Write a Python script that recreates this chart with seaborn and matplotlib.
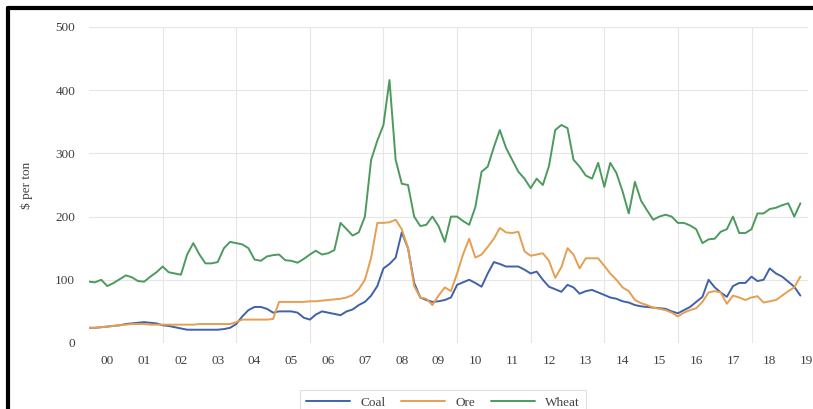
import pandas as pd
import numpy as np
import matplotlib.pyplot as plt
import matplotlib.dates as mdates
from matplotlib.lines import Line2D
import seaborn as sns

# bi-monthly observations, Jan 2000 - May 2019 ($ per ton)
dates = pd.date_range("2000-01-01", periods=117, freq="2MS")

coal = [24, 24, 25, 26, 27, 28,
        30, 31, 32, 33, 32, 31,
        28, 27, 25, 23, 21, 21,
        21, 21, 21, 21, 22, 24,
        30, 42, 52, 57, 57, 54,
        48, 50, 50, 50, 48, 40,
        37, 45, 50, 48, 46, 44,
        50, 53, 60, 65, 75, 90,
        118, 125, 135, 175, 150, 95,
        72, 68, 65, 66, 68, 72,
        92, 96, 100, 95, 89, 110,
        128, 125, 121, 121, 121, 116,
        110, 113, 100, 89, 85, 81,
        92, 88, 78, 82, 84, 80,
        76, 72, 70, 66, 64, 60,
        58, 57, 56, 55, 54, 50,
        47, 52, 57, 65, 73, 100,
        88, 80, 73, 90, 95, 95,
        105, 98, 100, 118, 110, 105,
        97, 89, 75]

ore = [24, 24, 25, 26, 27, 28,
       29, 30, 30, 30, 29, 29,
       29, 29, 29, 29, 29, 29,
       30, 30, 30, 30, 30, 30,
       33, 37, 37, 37, 37, 37,
       38, 65, 65, 65, 65, 65,
       66, 66, 67, 68, 69, 70,
       72, 76, 85, 100, 135, 190,
       190, 191, 195, 180, 150, 90,
       72, 70, 60, 75, 88, 82,
       110, 140, 165, 135, 140, 152,
       165, 182, 175, 174, 176, 145,
       138, 140, 142, 130, 103, 120,
       150, 140, 118, 134, 134, 134,
       122, 110, 100, 88, 82, 68,
       63, 60, 56, 54, 52, 48,
       42, 48, 52, 55, 65, 80,
       82, 80, 62, 75, 72, 68,
       72, 74, 64, 66, 68, 75,
       82, 88, 105]

wheat = [97, 96, 100, 90, 95, 101,
         107, 104, 98, 97, 105, 112,
         121, 112, 110, 108, 140, 158,
         140, 126, 126, 128, 150, 160,
         158, 156, 150, 132, 130, 137,
         139, 140, 131, 130, 127, 133,
         140, 146, 140, 142, 147, 190,
         180, 170, 175, 200, 290, 320,
         345, 416, 290, 252, 250, 200,
         185, 187, 200, 185, 160, 200,
         200, 193, 187, 215, 271, 279,
         310, 337, 309, 290, 271, 260,
         245, 260, 250, 280, 337, 345,
         340, 290, 279, 265, 260, 285,
         247, 285, 269, 240, 205, 255,
         225, 210, 195, 200, 203, 200,
         190, 190, 186, 180, 158, 164,
         165, 176, 180, 200, 174, 174,
         180, 205, 205, 212, 214, 218,
         221, 200, 221]

series_names = ["Coal", "Ore", "Wheat"]
colors = ["#3F62A8", "#E69F50", "#4D9A5E"]
year_labels = ["%02d" % y for y in range(0, 20)]

df = pd.DataFrame({"Date": dates, "Coal": coal, "Ore": ore, "Wheat": wheat})
long_df = df.melt(id_vars="Date", var_name="Series", value_name="Price")

sns.set_theme(style="whitegrid")
plt.rcParams["font.family"] = ["Liberation Serif", "DejaVu Serif"]

fig = plt.figure(figsize=(8.13, 4.09), dpi=100)
ax = fig.add_axes([0.1095, 0.1614, 0.8839, 0.7726])

sns.lineplot(data=long_df, x="Date", y="Price", hue="Series",
             hue_order=series_names, palette=colors, linewidth=1.4, ax=ax)

ax.set_xlim(mdates.date2num(pd.Timestamp("2000-01-01")),
            mdates.date2num(pd.Timestamp("2019-07-12")))
ax.set_ylim(0, 500)
ax.set_yticks([0, 100, 200, 300, 400, 500])

# gridlines at every second year start, labels at mid-year
grid_pos = [mdates.date2num(pd.Timestamp(f"{y}-01-01")) for y in range(2002, 2019, 2)]
label_pos = [mdates.date2num(pd.Timestamp(f"{2000 + i}-07-01")) for i in range(20)]
ax.set_xticks(grid_pos)
ax.set_xticklabels([])
ax.set_xticks(label_pos, minor=True)
ax.set_xticklabels(year_labels, minor=True)
ax.xaxis.grid(True, which="major", color="#e6e6e6", linewidth=0.8)
ax.xaxis.grid(False, which="minor")
ax.yaxis.grid(True, color="#e6e6e6", linewidth=0.8)
ax.tick_params(which="both", length=0, labelsize=9.5, colors="#404040")
ax.tick_params(axis="x", which="minor", pad=9)
ax.tick_params(axis="y", pad=10)

for s in ax.spines.values():
    s.set_visible(False)

ax.set_xlabel("")
ax.set_ylabel("$ per ton", fontsize=9.5, color="#404040", labelpad=16)

handles, labels = ax.get_legend_handles_labels()
ax.legend_.remove()
leg = fig.legend(handles, labels, loc="upper center", bbox_to_anchor=(0.545, 0.062),
                 ncol=3, fontsize=9.5, frameon=True, fancybox=False,
                 handlelength=3.3, columnspacing=1.2, borderpad=0.5)
leg.get_frame().set_edgecolor("#d9d9d9")
leg.get_frame().set_linewidth(0.8)
for t in leg.get_texts():
    t.set_color("#404040")

# black frame on top and left, cut off at the image edges
fig.add_artist(Line2D([0.0098, 1.0], [0.9804, 0.9804], color="black", linewidth=3,
                      transform=fig.transFigure))
fig.add_artist(Line2D([0.0098, 0.0098], [0.0, 0.9804], color="black", linewidth=3,
                      transform=fig.transFigure))

fig.savefig("out.png", dpi=100, facecolor="white")
